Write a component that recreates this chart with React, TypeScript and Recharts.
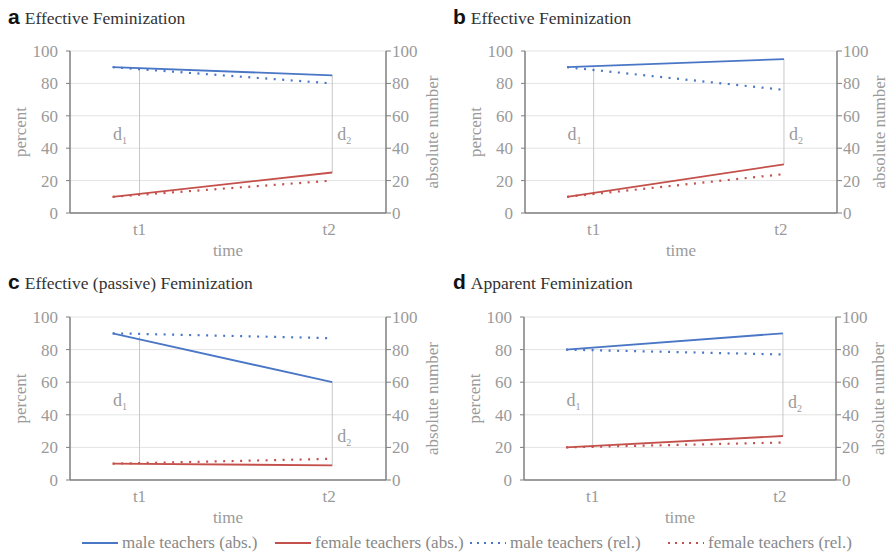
import { LineChart, Line, XAxis, YAxis, CartesianGrid, ReferenceLine, ReferenceDot } from "recharts";

const TIME_LABELS = ["t1", "t2"];
const TIME_TICKS = [22, 82];
const SERIES_X = [13.5, 83];
const Y_TICKS = [0, 20, 40, 60, 80, 100];

// values per panel: [at start, at end]
const A_MALE_ABS = [90, 85];
const A_FEMALE_ABS = [10, 25];
const A_MALE_REL = [90, 80];
const A_FEMALE_REL = [10, 20];
const A_D1 = [12, 89];
const A_D2 = [25, 85];

const B_MALE_ABS = [90, 95];
const B_FEMALE_ABS = [10, 30];
const B_MALE_REL = [90, 76];
const B_FEMALE_REL = [10, 24];
const B_D1 = [12, 90];
const B_D2 = [30, 95];

const C_MALE_ABS = [90, 60];
const C_FEMALE_ABS = [10, 9];
const C_MALE_REL = [90, 87];
const C_FEMALE_REL = [10, 13];
const C_D1 = [10, 88];
const C_D2 = [9, 60];

const D_MALE_ABS = [80, 90];
const D_FEMALE_ABS = [20, 27];
const D_MALE_REL = [80, 77];
const D_FEMALE_REL = [20, 23];
const D_D1 = [21, 81];
const D_D2 = [27, 90];

const BLUE = "#4a76c6";
const RED = "#c4504b";
const AXIS = "#7f7f7f";
const TEXT = "#9a9a9a";
const SERIF = "Liberation Serif";

const tickStyle = { fill: TEXT, fontSize: 17, fontFamily: SERIF };

function buildRows(mAbs: number[], fAbs: number[], mRel: number[], fRel: number[]) {
  return SERIES_X.map((x, i) => ({ x, mAbs: mAbs[i], fAbs: fAbs[i], mRel: mRel[i], fRel: fRel[i] }));
}

function DLabel(sub: string) {
  return (p: any) => (
    <text x={p.cx} y={p.cy + 6} fill={TEXT} fontFamily={SERIF} fontSize={18}>
      d<tspan dy={4} fontSize={10}>{sub}</tspan>
    </text>
  );
}

interface PanelProps {
  letter: string;
  title: string;
  left: number;
  top: number;
  margin: { top: number; right: number; bottom: number; left: number };
  rightOffset: number;
  rows: any[];
  d1: number[];
  d2: number[];
  d2LabelY: number;
}

function Panel({ letter, title, left, top, margin, rightOffset, rows, d1, d2, d2LabelY }: PanelProps) {
  return (
    <div style={{ position: "absolute", left, top, width: 445, height: 270 }}>
      <div style={{ position: "absolute", left: 8, top: 5, whiteSpace: "nowrap", color: "#333" }}>
        <span style={{ fontFamily: "Liberation Sans", fontWeight: 700, fontSize: 21, color: "#111" }}>{letter}</span>
        <span style={{ fontFamily: SERIF, fontSize: 17.5, marginLeft: 5 }}>{title}</span>
      </div>
      <LineChart width={445} height={270} data={rows} margin={margin}>
        <CartesianGrid vertical={false} stroke="#e3e3e3" yAxisId="rel" />
        <XAxis
          dataKey="x"
          type="number"
          domain={[0, 100]}
          ticks={TIME_TICKS}
          tickFormatter={(v) => TIME_LABELS[TIME_TICKS.indexOf(v)]}
          tickLine={false}
          tickSize={0}
          tickMargin={10}
          height={44}
          tick={tickStyle}
          axisLine={{ stroke: AXIS, strokeWidth: 1.5 }}
          label={{ value: "time", position: "insideBottom", offset: 1, fill: TEXT, fontSize: 17, fontFamily: SERIF }}
        />
        <YAxis
          yAxisId="rel"
          domain={[0, 100]}
          ticks={Y_TICKS}
          width={58}
          tickSize={4}
          tickMargin={8}
          tick={tickStyle}
          tickLine={{ stroke: AXIS }}
          axisLine={{ stroke: AXIS, strokeWidth: 1.5 }}
          label={{ value: "percent", angle: -90, position: "insideLeft", offset: 8, fill: TEXT, fontSize: 17, fontFamily: SERIF, style: { textAnchor: "middle" } }}
        />
        <YAxis
          yAxisId="abs"
          orientation="right"
          domain={[0, 100]}
          ticks={Y_TICKS}
          width={50}
          tickSize={5}
          tickMargin={1}
          tick={tickStyle}
          tickLine={{ stroke: AXIS }}
          axisLine={{ stroke: AXIS, strokeWidth: 1.5 }}
          label={{ value: "absolute number", angle: -90, position: "insideRight", offset: rightOffset, fill: TEXT, fontSize: 17, fontFamily: SERIF, style: { textAnchor: "middle" } }}
        />
        <ReferenceLine yAxisId="rel" segment={[{ x: TIME_TICKS[0], y: d1[0] }, { x: TIME_TICKS[0], y: d1[1] }]} stroke="#c8c8c8" strokeWidth={1} />
        <ReferenceLine yAxisId="rel" segment={[{ x: SERIES_X[1], y: d2[0] }, { x: SERIES_X[1], y: d2[1] }]} stroke="#c8c8c8" strokeWidth={1} />
        <ReferenceDot yAxisId="rel" x={13.6} y={49} r={0} shape={DLabel("1")} />
        <ReferenceDot yAxisId="rel" x={84.6} y={d2LabelY} r={0} shape={DLabel("2")} />
        <Line yAxisId="rel" dataKey="mRel" stroke={BLUE} strokeWidth={2.2} strokeDasharray="2 6.5" dot={false} isAnimationActive={false} />
        <Line yAxisId="rel" dataKey="fRel" stroke={RED} strokeWidth={2.2} strokeDasharray="2 6.5" dot={false} isAnimationActive={false} />
        <Line yAxisId="abs" dataKey="mAbs" stroke={BLUE} strokeWidth={1.8} dot={false} isAnimationActive={false} />
        <Line yAxisId="abs" dataKey="fAbs" stroke={RED} strokeWidth={1.8} dot={false} isAnimationActive={false} />
      </LineChart>
    </div>
  );
}

const LEGEND = [
  { name: "male teachers (abs.)", color: BLUE, dash: undefined, x: 82 },
  { name: "female teachers (abs.)", color: RED, dash: undefined, x: 275 },
  { name: "male teachers (rel.)", color: BLUE, dash: "2 5", x: 470 },
  { name: "female teachers (rel.)", color: RED, dash: "2 5", x: 668 },
];

export default function App() {
  return (
    <div style={{ position: "absolute", left: 0, top: 0, width: 889, height: 552, background: "#fff", overflow: "hidden" }}>
      <Panel letter="a" title="Effective Feminization" left={0} top={0}
        margin={{ top: 51, right: 9, bottom: 13, left: 12 }} rightOffset={4}
        rows={buildRows(A_MALE_ABS, A_FEMALE_ABS, A_MALE_REL, A_FEMALE_REL)} d1={A_D1} d2={A_D2} d2LabelY={49} />
      <Panel letter="b" title="Effective Feminization" left={445} top={0}
        margin={{ top: 51, right: 3, bottom: 13, left: 22 }} rightOffset={8}
        rows={buildRows(B_MALE_ABS, B_FEMALE_ABS, B_MALE_REL, B_FEMALE_REL)} d1={B_D1} d2={B_D2} d2LabelY={49} />
      <Panel letter="c" title="Effective (passive) Feminization" left={0} top={265}
        margin={{ top: 52, right: 9, bottom: 11, left: 12 }} rightOffset={4}
        rows={buildRows(C_MALE_ABS, C_FEMALE_ABS, C_MALE_REL, C_FEMALE_REL)} d1={C_D1} d2={C_D2} d2LabelY={27} />
      <Panel letter="d" title="Apparent Feminization" left={445} top={265}
        margin={{ top: 52, right: 4, bottom: 11, left: 21 }} rightOffset={8}
        rows={buildRows(D_MALE_ABS, D_FEMALE_ABS, D_MALE_REL, D_FEMALE_REL)} d1={D_D1} d2={D_D2} d2LabelY={48} />
      {LEGEND.map((l) => (
        <div key={l.name} style={{ position: "absolute", left: l.x, top: 533, display: "flex", alignItems: "center", whiteSpace: "nowrap" }}>
          <svg width={38} height={20}>
            <line x1={0} y1={10} x2={36} y2={10} stroke={l.color} strokeWidth={2} strokeDasharray={l.dash} />
          </svg>
          <span style={{ fontFamily: SERIF, fontSize: 17, color: "#888", marginLeft: 2 }}>{l.name}</span>
        </div>
      ))}
    </div>
  );
}
